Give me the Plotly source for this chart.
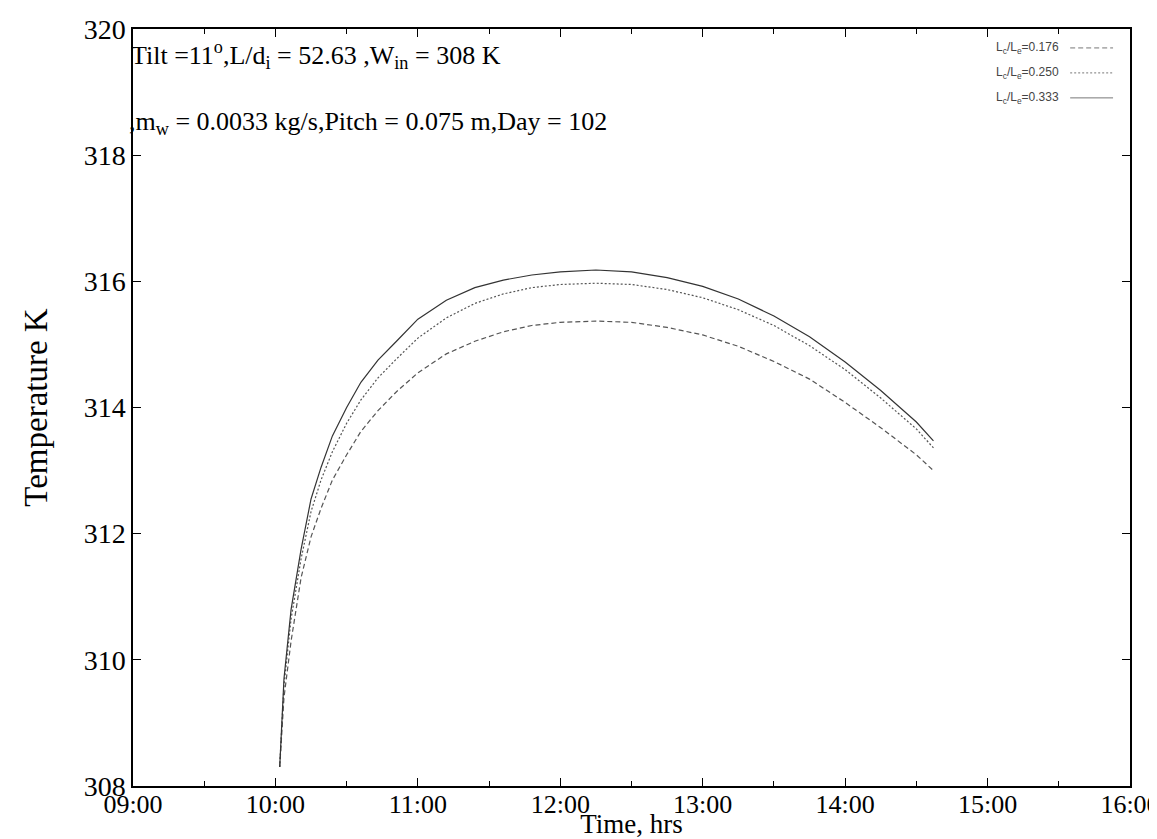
import plotly.graph_objects as go
import pandas as pd

# time of day in decimal hours
hours = [10.03, 10.06, 10.11, 10.18, 10.25, 10.32, 10.40, 10.50, 10.60, 10.72, 10.85, 11.0,
         11.2, 11.4, 11.6, 11.8, 12.0, 12.25, 12.5, 12.75, 13.0, 13.25, 13.5, 13.75,
         14.0, 14.25, 14.5, 14.62]

temp_0176 = [308.3, 309.4, 310.3, 311.3, 311.95, 312.4, 312.85, 313.25, 313.62, 313.95, 314.25, 314.55,
             314.85, 315.05, 315.2, 315.3, 315.35, 315.37, 315.35, 315.27, 315.15, 314.97, 314.73, 314.45,
             314.08, 313.68, 313.25, 313.0]
temp_0250 = [308.3, 309.6, 310.65, 311.6, 312.35, 312.85, 313.3, 313.75, 314.12, 314.47, 314.77, 315.1,
             315.42, 315.65, 315.8, 315.9, 315.95, 315.97, 315.95, 315.87, 315.74, 315.55, 315.3, 314.98,
             314.6, 314.15, 313.66, 313.36]
temp_0333 = [308.3, 309.7, 310.8, 311.75, 312.55, 313.05, 313.55, 314.0, 314.4, 314.75, 315.05, 315.4,
             315.7, 315.9, 316.02, 316.1, 316.15, 316.18, 316.15, 316.06, 315.92, 315.72, 315.45, 315.12,
             314.72, 314.27, 313.77, 313.47]

series_names = ["L<sub>c</sub>/L<sub>e</sub>=0.176",
                "L<sub>c</sub>/L<sub>e</sub>=0.250",
                "L<sub>c</sub>/L<sub>e</sub>=0.333"]
series_values = [temp_0176, temp_0250, temp_0333]
series_dash = ["5px,3px", "2px,2px", "solid"]
series_color = ["#555555", "#555555", "#333333"]

base = pd.Timestamp("2000-04-11")
times = [base + pd.Timedelta(hours=h) for h in hours]

fig = go.Figure()
for name, vals, dash, col in zip(series_names, series_values, series_dash, series_color):
    fig.add_trace(go.Scatter(x=times, y=vals, mode="lines", name=name, showlegend=False,
                             line=dict(color=col, width=1.2, dash=dash)))

serif = "Liberation Serif, Times New Roman, serif"

# custom legend (label left, line sample right)
leg_y = [0.975, 0.942, 0.909]
for name, dash, col, yy in zip(series_names, series_dash, series_color, leg_y):
    fig.add_annotation(xref="paper", yref="paper", x=0.931, y=yy, text=name, showarrow=False,
                       xanchor="right", yanchor="middle",
                       font=dict(family="Liberation Sans, Arial, sans-serif", size=12, color="#444"))
    fig.add_shape(type="line", xref="paper", yref="paper", x0=0.940, x1=0.983, y0=yy, y1=yy,
                  line=dict(color="#777", width=1, dash=dash))

fig.add_annotation(xref="paper", yref="paper", x=-0.004, y=0.966, xanchor="left", yanchor="middle",
                   showarrow=False,
                   text="Tilt =11<sup>o</sup>,L/d<sub>i</sub> = 52.63 ,W<sub>in</sub> = 308 K",
                   font=dict(family=serif, size=26, color="black"))
fig.add_annotation(xref="paper", yref="paper", x=-0.006, y=0.876, xanchor="left", yanchor="middle",
                   showarrow=False,
                   text=",m<sub>w</sub> = 0.0033 kg/s,Pitch = 0.075 m,Day = 102",
                   font=dict(family=serif, size=26, color="black"))

# browser body has an 8px margin: figure is placed at (8, 8) in the page
fig.update_layout(
    width=1149, height=831,
    margin=dict(l=125, r=27, t=21, b=53),
    plot_bgcolor="white", paper_bgcolor="white",
    font=dict(family=serif, color="black"),
    xaxis=dict(
        type="date",
        range=[base + pd.Timedelta(hours=9), base + pd.Timedelta(hours=16)],
        tick0=base + pd.Timedelta(hours=9), dtick=3600000, tickformat="%H:%M",
        ticks="inside", ticklen=8, tickcolor="black",
        minor=dict(ticks="inside", ticklen=5, dtick=1800000, tickcolor="black"),
        showline=True, linecolor="black", linewidth=1.5, mirror="allticks",
        showgrid=False, zeroline=False,
        tickfont=dict(family=serif, size=26, color="black"),
        ticklabelstandoff=-6, ticklabeloverflow="allow",
        title=dict(text="Time, hrs", font=dict(family=serif, size=27, color="black"), standoff=4),
        automargin=False,
    ),
    yaxis=dict(
        range=[308, 320], dtick=2, tick0=308,
        ticks="inside", ticklen=8, tickcolor="black",
        showline=True, linecolor="black", linewidth=1.5, mirror="allticks",
        showgrid=False, zeroline=False,
        tickfont=dict(family=serif, size=28, color="black"),
        ticklabeloverflow="allow",
        title=dict(text="Temperature K", font=dict(family=serif, size=33, color="black"), standoff=26),
        automargin=False,
    ),
)

fig.write_html("out.html")
